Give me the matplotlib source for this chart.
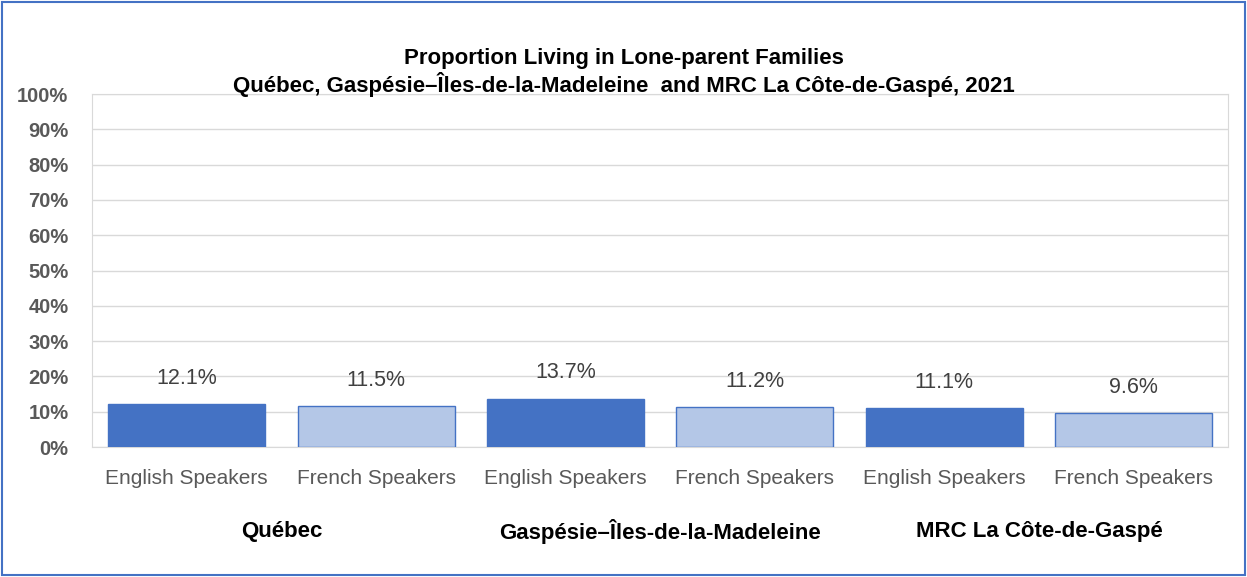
import matplotlib.pyplot as plt
from matplotlib.patches import Rectangle

plt.rcParams["font.family"] = ["Liberation Sans", "DejaVu Sans"]

regions = ["Québec", "Gaspésie–Îles-de-la-Madeleine", "MRC La Côte-de-Gaspé"]
speakers = ["English Speakers", "French Speakers"]
values = [12.1, 11.5, 13.7, 11.2, 11.1, 9.6]

dark = "#4472C4"
light = "#B4C7E7"

fig = plt.figure(figsize=(12.47, 5.77), dpi=100)
ax = fig.add_axes([0.0738, 0.2253, 0.9112, 0.6117])

x = list(range(len(values)))
colors = [dark if i % 2 == 0 else light for i in x]
bars = ax.bar(x, values, width=0.83, color=colors, edgecolor=dark, linewidth=1.0, zorder=3)

for b, v in zip(bars, values):
    ax.annotate(f"{v:.1f}%", (b.get_x() + b.get_width() / 2, v), xytext=(0, 11),
                textcoords="offset points", ha="center", va="bottom",
                fontsize=15.5, color="#404040")

ax.set_xlim(-0.5, len(values) - 0.5)
ax.set_ylim(0, 100)
ax.set_yticks(range(0, 101, 10))
ax.set_yticklabels([f"{t}%" for t in range(0, 101, 10)], fontsize=14.5,
                   fontweight="bold", color="#595959")
ax.set_xticks(x)
ax.set_xticklabels([speakers[i % 2] for i in x], fontsize=15, color="#595959")
ax.tick_params(axis="both", length=0)
ax.tick_params(axis="x", pad=16)
ax.tick_params(axis="y", pad=17)
ax.grid(axis="y", color="#D9D9D9", linewidth=1, zorder=0)
for s in ax.spines.values():
    s.set_color("#D9D9D9")

for k, name in enumerate(regions):
    ax.text(2 * k + 0.5, -0.24, name, transform=ax.get_xaxis_transform(),
            ha="center", va="center", fontsize=16, fontweight="bold", color="black")

fig.text(0.5, 0.899, "Proportion Living in Lone-parent Families", ha="center",
         va="center", fontsize=16, fontweight="bold")
fig.text(0.5, 0.853, "Québec, Gaspésie–Îles-de-la-Madeleine  and MRC La Côte-de-Gaspé, 2021",
         ha="center", va="center", fontsize=16, fontweight="bold")

fig.patches.append(Rectangle((0.002, 0.003), 0.996, 0.994, transform=fig.transFigure,
                             fill=False, edgecolor=dark, linewidth=1.5))

fig.savefig("out.png", dpi=100)
